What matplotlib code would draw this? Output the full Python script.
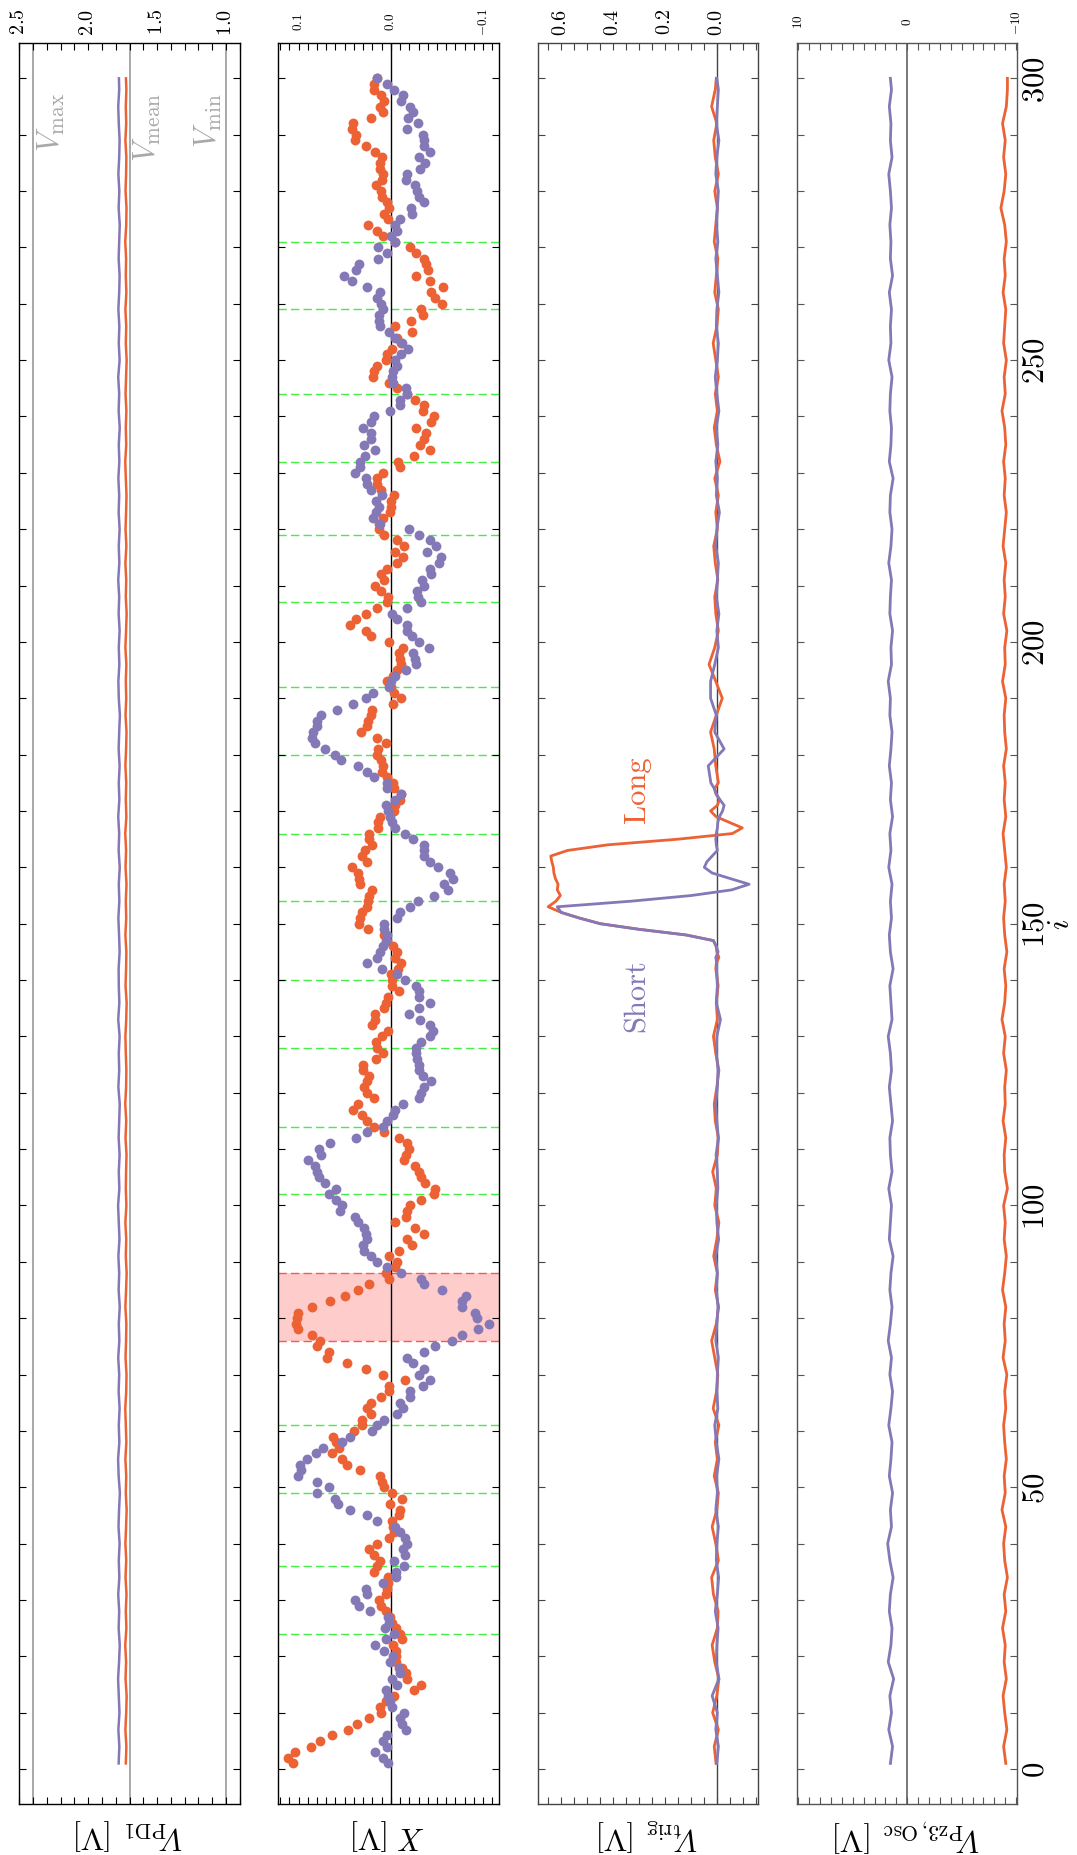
import numpy as np
import matplotlib
matplotlib.use("Agg")
import matplotlib.pyplot as plt

plt.rcParams["font.family"] = ["cmr10", "DejaVu Serif"]
plt.rcParams["mathtext.fontset"] = "cm"
plt.rcParams["axes.formatter.use_mathtext"] = True
plt.rcParams["axes.unicode_minus"] = True

ORANGE = "#EC6234"
PURPLE = "#8578B7"

# ---------------- data ----------------
# sample index for the scatter panel (X)
idx = np.arange(1, 301)

x_long = [
    0.106, 0.111, 0.104, 0.087, 0.077, 0.064, 0.046, 0.037, 0.024, 0.011,
    0.012, 0.005, -0.003, -0.025, -0.033, -0.017, -0.016, -0.012, -0.006, -0.006,
    -0.006, -0.002, -0.012, -0.010, -0.006, -0.001, 0.001, 0.005, 0.011, 0.013,
    0.005, 0.004, 0.003, 0.003, 0.018, 0.015, 0.012, 0.018, 0.024, 0.015,
    0.002, -0.003, -0.002, -0.001, -0.009, -0.010, 0.001, -0.012, -0.001, 0.007,
    0.010, 0.012, 0.033, 0.047, 0.053, 0.064, 0.056, 0.059, 0.063, 0.040,
    0.031, 0.031, 0.022, 0.026, 0.022, 0.011, 0.002, 0.002, -0.015, 0.009,
    0.027, 0.047, 0.069, 0.067, 0.080, 0.077, 0.085, 0.101, 0.103, 0.102,
    0.101, 0.086, 0.066, 0.050, 0.036, 0.024, 0.002, 0.005, -0.004, -0.007,
    0.002, -0.009, -0.023, -0.018, -0.036, -0.026, -0.005, -0.016, -0.018, -0.021,
    -0.033, -0.047, -0.048, -0.037, -0.033, -0.030, -0.026, -0.014, -0.016, -0.020,
    -0.018, -0.009, 0.007, 0.018, 0.026, 0.031, 0.041, 0.036, 0.018, 0.026,
    0.029, 0.026, 0.024, 0.030, 0.030, 0.016, 0.009, 0.015, 0.016, 0.010,
    0.003, 0.020, 0.017, 0.017, 0.007, 0.005, 0.003, -0.009, -0.001, -0.001,
    0.000, -0.008, -0.011, -0.004, -0.007, -0.002, 0.004, 0.007, 0.025, 0.034,
    0.033, 0.031, 0.026, 0.025, 0.024, 0.020, 0.033, 0.035, 0.036, 0.042,
    0.026, 0.031, 0.028, 0.020, 0.024, 0.024, 0.014, 0.014, 0.012, -0.003,
    -0.004, -0.010, -0.011, -0.003, -0.002, 0.004, 0.010, 0.009, 0.011, 0.015,
    0.014, 0.005, 0.015, 0.032, 0.026, 0.025, 0.021, 0.020, -0.002, -0.011,
    -0.003, 0.000, 0.004, -0.002, -0.007, -0.011, -0.010, -0.009, -0.013, 0.002,
    0.021, 0.027, 0.044, 0.038, 0.027, 0.015, 0.004, 0.003, 0.011, 0.017,
    0.007, 0.011, 0.004, -0.007, -0.013, -0.005, -0.014, -0.007, 0.007, 0.013,
    0.013, 0.009, 0.001, 0.000, 0.000, -0.003, 0.011, 0.015, 0.015, 0.008,
    -0.010, -0.008, -0.025, -0.043, -0.032, -0.036, -0.038, -0.027, -0.044, -0.047,
    -0.035, -0.036, -0.026, -0.017, -0.007, 0.002, 0.019, 0.018, 0.015, 0.005,
    0.004, -0.001, -0.011, -0.007, -0.023, -0.004, -0.022, -0.035, -0.033, -0.055,
    -0.048, -0.044, -0.057, -0.042, -0.027, -0.040, -0.038, -0.036, -0.027, -0.021,
    -0.004, 0.009, 0.015, 0.025, 0.003, 0.007, 0.002, 0.004, 0.010, 0.011,
    0.016, 0.010, 0.009, 0.012, 0.012, 0.010, 0.017, 0.027, 0.039, 0.038,
    0.042, 0.041, 0.022, 0.009, 0.012, 0.007, 0.011, 0.018, 0.018, 0.015,
]

x_short = [
    0.003, 0.009, 0.017, 0.004, 0.008, 0.004, -0.016, -0.012, -0.010, -0.014,
    -0.001, 0.001, 0.003, 0.005, -0.007, -0.001, -0.010, -0.009, 0.001, -0.002,
    0.007, 0.017, 0.005, -0.003, 0.006, 0.002, 0.003, 0.023, 0.035, 0.039,
    0.026, 0.027, 0.009, -0.006, -0.006, -0.014, -0.003, -0.015, -0.013, -0.017,
    -0.015, -0.010, -0.005, 0.015, 0.026, 0.044, 0.057, 0.060, 0.080, 0.067,
    0.080, 0.101, 0.097, 0.099, 0.091, 0.081, 0.073, 0.053, 0.044, 0.020,
    0.015, 0.007, -0.007, -0.013, -0.010, -0.021, -0.021, -0.035, -0.042, -0.031,
    -0.036, -0.024, -0.018, -0.036, -0.048, -0.066, -0.077, -0.095, -0.106, -0.093,
    -0.091, -0.077, -0.077, -0.081, -0.055, -0.036, -0.033, -0.011, 0.004, 0.015,
    0.022, 0.029, 0.030, 0.026, 0.027, 0.029, 0.036, 0.039, 0.055, 0.053,
    0.059, 0.067, 0.059, 0.071, 0.078, 0.080, 0.082, 0.090, 0.076, 0.078,
    0.066, 0.038, 0.026, 0.009, 0.004, -0.002, -0.004, -0.013, -0.031, -0.033,
    -0.036, -0.044, -0.035, -0.031, -0.030, -0.028, -0.027, -0.027, -0.033, -0.042,
    -0.046, -0.042, -0.032, -0.020, -0.031, -0.043, -0.031, -0.031, -0.027, -0.015,
    -0.007, 0.010, 0.026, 0.015, 0.012, 0.009, 0.005, 0.004, 0.007, 0.007,
    -0.007, -0.010, -0.021, -0.029, -0.047, -0.062, -0.058, -0.067, -0.064, -0.051,
    -0.042, -0.036, -0.036, -0.036, -0.024, -0.015, -0.005, -0.001, 0.001, 0.003,
    0.005, -0.004, -0.011, 0.004, 0.004, 0.018, 0.026, 0.036, 0.054, 0.061,
    0.071, 0.082, 0.086, 0.084, 0.080, 0.080, 0.076, 0.058, 0.041, 0.027,
    0.019, 0.002, 0.000, -0.004, -0.016, -0.027, -0.026, -0.024, -0.041, -0.030,
    -0.023, -0.018, -0.017, -0.007, -0.001, -0.017, -0.033, -0.029, -0.028, -0.036,
    -0.034, -0.044, -0.043, -0.052, -0.054, -0.039, -0.049, -0.042, -0.031, -0.020,
    0.012, 0.019, 0.016, 0.013, 0.016, 0.010, 0.022, 0.026, 0.027, 0.039,
    0.033, 0.033, 0.028, 0.017, 0.029, 0.022, 0.021, 0.030, 0.022, 0.018,
    0.001, -0.010, -0.010, -0.018, -0.016, -0.002, -0.001, -0.002, -0.007, -0.005,
    -0.011, -0.019, -0.012, -0.005, 0.002, 0.012, 0.013, 0.013, 0.008, 0.011,
    0.015, 0.012, 0.026, 0.042, 0.051, 0.038, 0.034, 0.014, 0.004, 0.014,
    -0.004, 0.000, -0.007, -0.004, -0.010, -0.023, -0.022, -0.036, -0.030, -0.028,
    -0.026, -0.016, -0.017, -0.032, -0.037, -0.030, -0.043, -0.036, -0.036, -0.035,
    -0.017, -0.029, -0.019, -0.024, -0.021, -0.011, -0.013, -0.003, 0.004, 0.015,
]

# positions of the dashed markers in the X panel
green_marks = [24, 36, 49, 61, 102, 114, 128, 140, 154, 166,
               180, 192, 207, 219, 232, 244, 259, 271]
red_band = [76, 88]

# V_PD1 panel (sampled every 3rd index)
pd1_i = np.r_[np.arange(1, 299, 3), 300]
pd1_short = [
    1.779, 1.774, 1.781, 1.773, 1.778, 1.783, 1.776, 1.771, 1.779, 1.775,
    1.782, 1.774, 1.778, 1.772, 1.780, 1.776, 1.770, 1.779, 1.783, 1.774,
    1.778, 1.772, 1.779, 1.775, 1.782, 1.774, 1.778, 1.771, 1.779, 1.775,
    1.781, 1.773, 1.778, 1.783, 1.774, 1.778, 1.772, 1.779, 1.775, 1.771,
    1.781, 1.775, 1.778, 1.772, 1.782, 1.774, 1.778, 1.779, 1.772, 1.776,
    1.781, 1.774, 1.778, 1.771, 1.779, 1.775, 1.782, 1.774, 1.778, 1.772,
    1.779, 1.775, 1.770, 1.778, 1.781, 1.774, 1.778, 1.772, 1.779, 1.775,
    1.782, 1.774, 1.778, 1.772, 1.779, 1.775, 1.781, 1.774, 1.778, 1.771,
    1.779, 1.775, 1.782, 1.772, 1.778, 1.774, 1.781, 1.775, 1.772, 1.779,
    1.775, 1.771, 1.779, 1.774, 1.781, 1.775, 1.772, 1.778, 1.782, 1.775,
    1.777,
]
pd1_long = [
    1.727, 1.723, 1.730, 1.724, 1.721, 1.729, 1.725, 1.731, 1.723, 1.727,
    1.722, 1.729, 1.724, 1.730, 1.725, 1.721, 1.727, 1.724, 1.730, 1.723,
    1.727, 1.731, 1.724, 1.722, 1.729, 1.725, 1.723, 1.730, 1.725, 1.721,
    1.727, 1.724, 1.730, 1.723, 1.727, 1.725, 1.722, 1.729, 1.724, 1.731,
    1.725, 1.723, 1.727, 1.730, 1.724, 1.721, 1.729, 1.725, 1.723, 1.730,
    1.724, 1.727, 1.722, 1.729, 1.725, 1.731, 1.723, 1.727, 1.724, 1.730,
    1.725, 1.722, 1.729, 1.724, 1.727, 1.723, 1.730, 1.725, 1.721, 1.727,
    1.724, 1.730, 1.723, 1.729, 1.725, 1.722, 1.727, 1.731, 1.724, 1.727,
    1.723, 1.729, 1.725, 1.721, 1.727, 1.724, 1.730, 1.723, 1.727, 1.725,
    1.731, 1.724, 1.722, 1.729, 1.725, 1.723, 1.730, 1.724, 1.727, 1.723,
    1.726,
]
vpd1_refs = [2.4, 1.7, 1.0]

# V_Pz3,Osc panel (same sampling as V_PD1)
pz3_short = [
    1.55, 1.35, 1.70, 1.45, 1.60, 1.25, 1.75, 1.50, 1.40, 1.65,
    1.55, 1.30, 1.60, 1.80, 1.45, 1.55, 1.35, 1.65, 1.50, 1.40,
    1.70, 1.50, 1.35, 1.60, 1.45, 1.75, 1.55, 1.40, 1.60, 1.50,
    1.30, 1.65, 1.55, 1.45, 1.70, 1.40, 1.55, 1.60, 1.35, 1.50,
    1.65, 1.45, 1.55, 1.75, 1.40, 1.50, 1.60, 1.30, 1.55, 1.65,
    1.45, 1.55, 1.40, 1.70, 1.50, 1.60, 1.35, 1.55, 1.45, 1.65,
    1.50, 1.40, 1.60, 1.55, 1.75, 1.45, 1.50, 1.35, 1.60, 1.55,
    1.45, 1.70, 1.50, 1.40, 1.60, 1.55, 1.30, 1.65, 1.50, 1.45,
    1.60, 1.55, 1.40, 1.70, 1.50, 1.55, 1.45, 1.65, 1.35, 1.55,
    1.50, 1.60, 1.45, 1.55, 1.70, 1.40, 1.55, 1.50, 1.65, 1.45,
    1.55,
]
pz3_long = [
    -9.05, -8.85, -9.15, -8.95, -8.80, -9.10, -8.90, -9.00, -8.75, -9.05,
    -8.90, -9.20, -8.95, -8.85, -9.05, -8.70, -9.00, -8.90, -9.10, -8.95,
    -8.85, -9.05, -8.95, -9.15, -8.80, -9.00, -8.90, -9.05, -8.75, -8.95,
    -9.10, -8.90, -9.00, -8.85, -9.20, -8.95, -8.90, -9.05, -8.80, -9.00,
    -8.95, -9.10, -8.85, -9.00, -8.70, -8.95, -9.05, -8.90, -9.15, -8.95,
    -8.85, -9.00, -8.90, -9.10, -8.95, -8.80, -9.05, -8.90, -9.00, -8.85,
    -9.10, -8.95, -8.90, -9.05, -8.75, -9.00, -8.95, -9.15, -8.85, -9.00,
    -8.90, -9.05, -8.80, -8.95, -9.10, -8.90, -9.00, -8.85, -9.05, -8.95,
    -8.70, -9.00, -8.90, -9.10, -8.85, -8.95, -9.05, -8.80, -9.00, -8.90,
    -9.10, -8.95, -8.60, -8.90, -9.05, -8.85, -9.00, -8.75, -9.10, -9.20,
    -9.20,
]

# V_trig panel: three sampling segments (coarse, fine around the pulse, coarse)
trig_i_a = np.arange(1, 143, 3)          # 48 samples
trig_i_b = np.arange(143, 176)           # 33 samples
trig_i_c = np.r_[np.arange(178, 299, 3), 300]  # 42 samples

trig_long_a = [
    0.005, 0.012, -0.004, 0.018, 0.002, -0.006, 0.010, 0.020, 0.000, -0.003,
    0.015, 0.022, -0.004, 0.006, 0.020, 0.002, -0.004, 0.012, 0.000, 0.008,
    -0.006, 0.016, 0.003, -0.002, 0.010, 0.022, 0.004, -0.005, 0.008, 0.000,
    0.014, 0.002, -0.006, 0.010, 0.004, 0.018, 0.000, -0.004, 0.008, 0.012,
    0.002, -0.006, 0.006, 0.015, 0.000, 0.004, -0.003, 0.006,
]
trig_short_a = [
    0.002, -0.004, 0.006, 0.000, 0.020, -0.006, 0.004, 0.002, -0.003, 0.008,
    0.000, -0.005, 0.004, 0.002, -0.004, 0.006, 0.000, 0.003, -0.006, 0.004,
    0.010, -0.002, 0.002, 0.000, -0.004, 0.006, 0.002, -0.003, 0.004, 0.000,
    0.006, -0.005, 0.002, 0.004, -0.002, 0.000, 0.005, -0.004, 0.002, 0.006,
    0.000, -0.003, 0.004, 0.002, -0.012, 0.004, 0.000, 0.003,
]
trig_long_b = [
    0.004, -0.006, 0.002, 0.005, 0.015, 0.120, 0.300, 0.450, 0.530, 0.600,
    0.650, 0.620, 0.603, 0.615, 0.612, 0.622, 0.628, 0.630, 0.636, 0.640,
    0.575, 0.420, 0.150, -0.058, -0.096, -0.045, 0.005, 0.026, 0.000, -0.008,
    0.004, 0.010, -0.004,
]
trig_short_b = [
    0.002, 0.006, -0.003, 0.004, 0.015, 0.120, 0.300, 0.450, 0.530, 0.600,
    0.615, 0.330, 0.100, -0.055, -0.122, -0.050, 0.020, 0.050, 0.040, 0.020,
    0.000, 0.004, 0.006, 0.004, 0.000, -0.002, -0.008, -0.020, -0.026, -0.010,
    0.005, 0.012, 0.025,
]
trig_long_c = [
    0.006, 0.012, 0.026, 0.004, -0.019, 0.006, 0.032, 0.010, -0.004, 0.006,
    0.010, -0.002, 0.008, 0.014, 0.000, 0.006, -0.004, 0.010, -0.010, 0.004,
    0.012, 0.000, 0.008, -0.004, 0.006, 0.016, 0.002, -0.004, 0.010, 0.004,
    -0.002, 0.012, 0.006, 0.000, 0.010, -0.004, 0.008, 0.014, 0.002, 0.022,
    0.008, 0.004,
]
trig_short_c = [
    0.035, -0.026, 0.010, 0.004, 0.026, 0.026, 0.010, -0.004, 0.002, -0.006,
    0.004, 0.000, -0.004, 0.006, 0.002, -0.008, 0.004, 0.000, 0.006, -0.002,
    0.004, -0.006, 0.002, 0.008, 0.000, -0.004, 0.004, 0.002, -0.006, 0.000,
    0.006, -0.002, 0.004, 0.000, -0.004, 0.006, 0.002, -0.006, 0.004, 0.000,
    -0.004, 0.002,
]
trig_i = np.concatenate([trig_i_a, trig_i_b, trig_i_c])
trig_long = np.concatenate([trig_long_a, trig_long_b, trig_long_c])
trig_short = np.concatenate([trig_short_a, trig_short_b, trig_short_c])

ylabels = [r"$V_{\mathrm{PD1}}$ [V]", r"$X$ [V]", r"$V_{\mathrm{trig}}$ [V]",
           r"$V_{\mathrm{Pz3,Osc}}$ [V]"]

# ---------------- figure ----------------
fig = plt.figure(figsize=(10.77, 18.56), dpi=100)
B, H = 0.02748, 0.9486
lefts = [0.01792, 0.2584, 0.4993, 0.7398]
W = 0.2047
axes = [fig.add_axes([l, B, W, H]) for l in lefts]


def fmt(v, nd):
    if abs(v) < 1e-9:
        v = 0.0
    return "$" + f"{v:.{nd}f}" + "$"


xlims = [(2.5, 0.9), (0.122, -0.117), (0.69, -0.157), (10.15, -10.1)]
tick_sets = [
    (np.round(np.arange(0.9, 2.51, 0.1), 2), [1.0, 1.5, 2.0, 2.5], 1, 14.5),
    (np.round(np.arange(-0.11, 0.121, 0.01), 3), [-0.1, 0.0, 0.1], 1, 9.5),
    (np.round(np.arange(-0.15, 0.651, 0.05), 3), [0.0, 0.2, 0.4, 0.6], 1, 14.5),
    (np.arange(-10, 11, 1), [-10, 0, 10], 0, 9.5),
]
frame_cols = ["black", "black", "#444444", "#555555"]

for k, ax in enumerate(axes):
    ax.set_ylim(-6.2, 306.2)
    ax.set_xlim(*xlims[k])
    ticks, labeled, nd, fs = tick_sets[k]
    labs = []
    for t in ticks:
        if any(abs(t - L) < 1e-6 for L in labeled):
            labs.append(fmt(t, nd))
        else:
            labs.append("")
    ax.set_xticks(ticks, labels=labs, rotation=90, ha="center", va="center",
                  fontsize=fs)
    yt = np.arange(0, 301, 10)
    if k == 3:
        ylabs = [f"${v}$" if v % 50 == 0 else "" for v in yt]
        ax.set_yticks(yt, labels=ylabs, rotation=90, ha="center", va="center",
                      fontsize=22)
    else:
        ax.set_yticks(yt)
    ax.tick_params(axis="both", which="both", direction="in", length=5,
                   width=0.8, top=True, bottom=True, left=True, right=True,
                   labelbottom=False, labeltop=True, labelleft=False,
                   labelright=(k == 3), colors=frame_cols[k],
                   labelcolor="black")
    ax.tick_params(axis="x", pad=16)
    ax.tick_params(axis="y", pad=13.5)
    for sp in ax.spines.values():
        sp.set_color(frame_cols[k])
        sp.set_linewidth(1.0)
    ax.text(0.5, -0.0068, ylabels[k], transform=ax.transAxes, rotation=180,
            ha="center", va="top", fontsize=22)

# panel 1: V_PD1
ax = axes[0]
for v in vpd1_refs:
    ax.axvline(v, color="#a8a8a8", lw=1.4, zorder=1)
ax.plot(pd1_long, pd1_i, color=ORANGE, lw=1.8, zorder=3)
ax.plot(pd1_short, pd1_i, color=PURPLE, lw=1.8, zorder=3)
ax.text(2.38, 297.6, r"$V_{\mathrm{max}}$", rotation=90, ha="left", va="top",
        color="#a8a8a8", fontsize=22)
ax.text(1.68, 297.6, r"$V_{\mathrm{mean}}$", rotation=90, ha="left", va="top",
        color="#a8a8a8", fontsize=22)
ax.text(1.018, 297.6, r"$V_{\mathrm{min}}$", rotation=90, ha="right", va="top",
        color="#a8a8a8", fontsize=22)

# panel 2: X scatter
ax = axes[1]
ax.axhspan(red_band[0], red_band[1], color="#ffcccc", zorder=0, lw=0)
for yv in red_band:
    ax.axhline(yv, color="#ff5555", ls=(0, (6, 3)), lw=1.0, zorder=1)
for yv in green_marks:
    ax.axhline(yv, color="#44ee44", ls=(0, (6, 3)), lw=1.0, zorder=1)
ax.axvline(0, color="black", lw=1.0, zorder=1)
ax.scatter(x_long, idx, s=50, color=ORANGE, linewidths=0, zorder=3)
ax.scatter(x_short, idx, s=50, color=PURPLE, linewidths=0, zorder=4)

# panel 3: V_trig
ax = axes[2]
ax.axvline(0, color="#444444", lw=1.0, zorder=1)
ax.plot(trig_long, trig_i, color=ORANGE, lw=2.0, zorder=3)
ax.plot(trig_short, trig_i, color=PURPLE, lw=2.0, zorder=4)
ax.text(0.308, 174.0, "Long", rotation=90, ha="center", va="center",
        color=ORANGE, fontsize=22)
ax.text(0.308, 137.5, "Short", rotation=90, ha="center", va="center",
        color=PURPLE, fontsize=22)

# panel 4: V_Pz3,Osc
ax = axes[3]
ax.axvline(0, color="#777777", lw=1.4, zorder=1)
ax.plot(pz3_long, pd1_i, color=ORANGE, lw=2.0, zorder=3)
ax.plot(pz3_short, pd1_i, color=PURPLE, lw=2.0, zorder=3)
ax.text(1.2, 0.5, r"$i$", transform=ax.transAxes, rotation=90,
        ha="center", va="center", fontsize=22)

fig.savefig("out.png", dpi=100)
